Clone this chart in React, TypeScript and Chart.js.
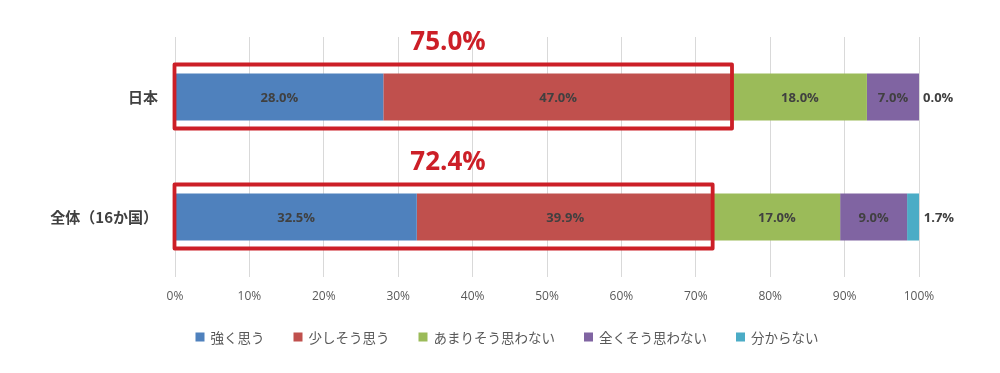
import { useEffect, useRef } from "react";
import { Chart, registerables } from "chart.js";

Chart.register(...registerables);

const categories = ["日本", "全体（16か国）"];
const seriesNames = ["強く思う", "少しそう思う", "あまりそう思わない", "全くそう思わない", "分からない"];
const strongly = [28.0, 32.5];
const somewhat = [47.0, 39.9];
const notMuch = [18.0, 17.0];
const notAtAll = [7.0, 9.0];
const dontKnow = [0.0, 1.7];
const agreeTotals = [75.0, 72.4];
const xTickValues = [0, 10, 20, 30, 40, 50, 60, 70, 80, 90, 100];
const seriesColors = ["#4F81BD", "#C0504D", "#9BBB59", "#8064A2", "#4BACC6"];

const NUM_FONT = '"Open Sans", "Noto Sans CJK JP", sans-serif';
const JP_FONT = '"Noto Sans CJK JP", "Noto Sans", sans-serif';

const overlayPlugin = {
  id: "overlay",
  afterDatasetsDraw(chart: any) {
    const ctx = chart.ctx as CanvasRenderingContext2D;
    const n = chart.data.datasets.length;
    ctx.save();
    // data labels
    chart.data.datasets.forEach((ds: any, di: number) => {
      const meta = chart.getDatasetMeta(di);
      meta.data.forEach((bar: any, i: number) => {
        const v = ds.data[i] as number;
        const { x, y, base } = bar.getProps(["x", "y", "base"], true);
        const label = v.toFixed(1) + "%";
        ctx.font = "bold 13px " + NUM_FONT;
        ctx.textBaseline = "middle";
        ctx.fillStyle = "#404040";
        if (di === n - 1) {
          ctx.textAlign = "left";
          ctx.fillText(label, Math.max(x, base) + 4, y + 1);
        } else {
          ctx.textAlign = "center";
          ctx.fillText(label, (x + base) / 2, y + 1);
        }
      });
    });
    // red highlight boxes + totals
    const xs = chart.scales.x;
    const meta0 = chart.getDatasetMeta(0);
    agreeTotals.forEach((t, i) => {
      const bar = meta0.data[i];
      if (!bar) return;
      const { y, height } = bar.getProps(["y", "height"], true);
      const left = xs.getPixelForValue(0) - 0.5;
      const right = xs.getPixelForValue(t) - 1;
      const top = y - height / 2 - 9;
      const bottom = y + height / 2 + 8;
      ctx.strokeStyle = "#CC1F27";
      ctx.lineWidth = 3.8;
      ctx.lineJoin = "round";
      ctx.strokeRect(left, top, right - left, bottom - top);
      ctx.font = "bold 26px " + NUM_FONT;
      ctx.fillStyle = "#CC1F27";
      ctx.textAlign = "center";
      ctx.textBaseline = "middle";
      ctx.fillText(t.toFixed(1) + "%", xs.left + 0.367 * xs.width, y - height / 2 - 31);
    });
    // legend
    ctx.font = "13.5px " + JP_FONT;
    const box = 9;
    const gapBoxText = 6;
    const gapItems = 29;
    const widths = chart.data.datasets.map((ds: any) => box + gapBoxText + ctx.measureText(ds.label).width);
    const total = widths.reduce((a: number, b: number) => a + b, 0) + gapItems * (n - 1);
    let lx = 507 - total / 2;
    const ly = 337;
    chart.data.datasets.forEach((ds: any, di: number) => {
      ctx.fillStyle = ds.backgroundColor;
      ctx.fillRect(lx, ly - box / 2, box, box);
      ctx.fillStyle = "#595959";
      ctx.textAlign = "left";
      ctx.textBaseline = "middle";
      ctx.fillText(ds.label, lx + box + gapBoxText, ly + 1);
      lx += widths[di] + gapItems;
    });
    ctx.restore();
  },
};

export default function App() {
  const canvasRef = useRef<HTMLCanvasElement | null>(null);

  useEffect(() => {
    if (!canvasRef.current) return;
    const seriesData = [strongly, somewhat, notMuch, notAtAll, dontKnow];
    const chart = new Chart(canvasRef.current, {
      type: "bar",
      data: {
        labels: categories,
        datasets: seriesNames.map((name, i) => ({
          label: name,
          data: seriesData[i],
          backgroundColor: seriesColors[i],
          borderWidth: 0,
          barPercentage: 1,
          categoryPercentage: 0.392,
        })),
      },
      options: {
        indexAxis: "y",
        animation: false,
        responsive: false,
        maintainAspectRatio: false,
        layout: { padding: { top: 37, right: 81, left: 0, bottom: 0 } },
        plugins: {
          legend: { display: false },
          tooltip: { enabled: false },
        },
        scales: {
          x: {
            stacked: true,
            min: 0,
            max: 100,
            afterBuildTicks: (axis: any) => {
              axis.ticks = xTickValues.map((v) => ({ value: v }));
            },
            afterFit: (axis: any) => {
              axis.height = 96;
            },
            grid: { color: "#D9D9D9", lineWidth: 1, drawTicks: false },
            border: { display: false },
            ticks: {
              padding: 12,
              color: "#595959",
              font: { size: 12, family: NUM_FONT },
              callback: (v: any) => v + "%",
            },
          },
          y: {
            stacked: true,
            afterFit: (axis: any) => {
              axis.width = 175;
            },
            grid: { display: false, drawTicks: false },
            border: { display: false },
            ticks: {
              padding: 17,
              color: "#404040",
              font: { size: 15, weight: "bold", family: JP_FONT },
            },
          },
        },
      },
      plugins: [overlayPlugin],
    });
    return () => chart.destroy();
  }, []);

  return (
    <div style={{ position: "fixed", left: 0, top: 0, width: 1000, height: 373, background: "#ffffff" }}>
      <canvas ref={canvasRef} width={1000} height={373} style={{ width: 1000, height: 373, display: "block" }} />
    </div>
  );
}
